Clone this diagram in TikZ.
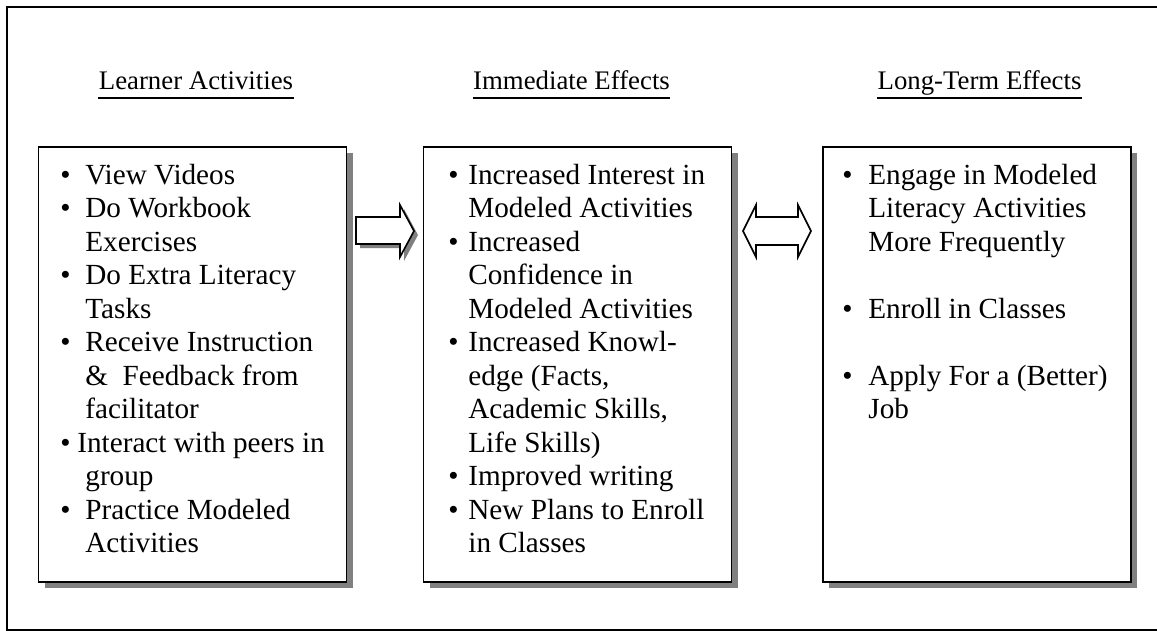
\documentclass[tikz,border=0pt]{standalone}
\usepackage{fontspec}
\setmainfont{Liberation Serif}
\usetikzlibrary{shadows}
\newlength\pxu \setlength\pxu{0.5pt}
\newcommand\bli[3]{\makebox[#2\pxu][l]{\hspace*{#1\pxu}\textbullet}#3}
\newcommand\cli[2]{\makebox[#1\pxu][l]{}#2}
\begin{document}
\begin{tikzpicture}[x=0.5pt,y=-0.5pt,
  frame/.style={line width=0.8pt},
  panel/.style={draw, line width=0.9pt, fill=white, inner sep=0pt,
    minimum width=154pt, minimum height=217.5pt,
    drop shadow={shadow xshift=3pt, shadow yshift=-3pt, fill=black!50, opacity=1}},
  head/.style={inner sep=0pt, anchor=base, font=\fontsize{13.4}{16}\selectfont},
  uline/.style={line width=0.6pt},
  body/.style={inner sep=0pt, anchor=base west, align=left,
    font=\fontsize{14.6}{16.75}\selectfont},
  blockarrow/.style={draw, line width=0.8pt, fill=white, line join=miter},
  arrowshadow/.style={fill=black!50},
  ]
\useasboundingbox (0,0) rectangle (1157,631);
\draw[frame] (1157,7) -- (7,7) -- (7,630) -- (1157,630);

% headers
\node[head] (hL) at (196,90) {Learner Activities};
\node[head] (hM) at (571.5,90) {Immediate Effects};
\node[head] (hR) at (979.5,90) {Long-Term Effects};
\foreach \h in {hL,hM,hR}
  \draw[uline] ([yshift=-4pt]\h.base west) -- ([yshift=-4pt]\h.base east);

% panels
\node[panel] (bL) at (192.5,364.5) {};
\node[panel] (bM) at (577.5,364.5) {};
\node[panel] (bR) at (977,364.5) {};

% texts (anchor = baseline of the last line)
\node[body] (tL) at (39,552.5) {%
\bli{21}{46}{View Videos}\\
\bli{21}{46}{Do Workbook}\\
\cli{46}{Exercises}\\
\bli{21}{46}{Do Extra Literacy}\\
\cli{46}{Tasks}\\
\bli{21}{46}{Receive Instruction}\\
\cli{46}{\&\ \ Feedback from}\\
\cli{46}{facilitator}\\
\bli{21}{38}{Interact with peers in}\\
\cli{46}{group}\\
\bli{21}{46}{Practice Modeled}\\
\cli{46}{Activities}};

\node[body] (tM) at (423,552.5) {%
\bli{25}{45}{Increased Interest in}\\
\cli{45}{Modeled Activities}\\
\bli{25}{45}{Increased}\\
\cli{45}{Confidence in}\\
\cli{45}{Modeled Activities}\\
\bli{25}{45}{Increased Knowl-}\\
\cli{45}{edge (Facts,}\\
\cli{45}{Academic Skills,}\\
\cli{45}{Life Skills)}\\
\bli{25}{45}{Improved writing}\\
\bli{25}{45}{New Plans to Enroll}\\
\cli{45}{in Classes}};

\node[body] (tR) at (823,418.5) {%
\bli{19}{45}{Engage in Modeled}\\
\cli{45}{Literacy Activities}\\
\cli{45}{More Frequently}\\[16.75pt]
\bli{19}{45}{Enroll in Classes}\\[16.75pt]
\bli{19}{45}{Apply For a (Better)}\\
\cli{45}{Job}};

% block arrows
\fill[arrowshadow, shift={(4,4)}] (356,217) -- (400,217) -- (400,205) -- (414,231)
  -- (400,257) -- (400,244) -- (356,244) -- cycle;
\path[blockarrow] (356,217) -- (400,217) -- (400,205) -- (414,231)
  -- (400,257) -- (400,244) -- (356,244) -- cycle;
\path[blockarrow] (743,231) -- (756,205) -- (756,217) -- (798,217) -- (798,205)
  -- (811,231) -- (798,257) -- (798,245) -- (756,245) -- (756,257) -- cycle;
\end{tikzpicture}
\end{document}
